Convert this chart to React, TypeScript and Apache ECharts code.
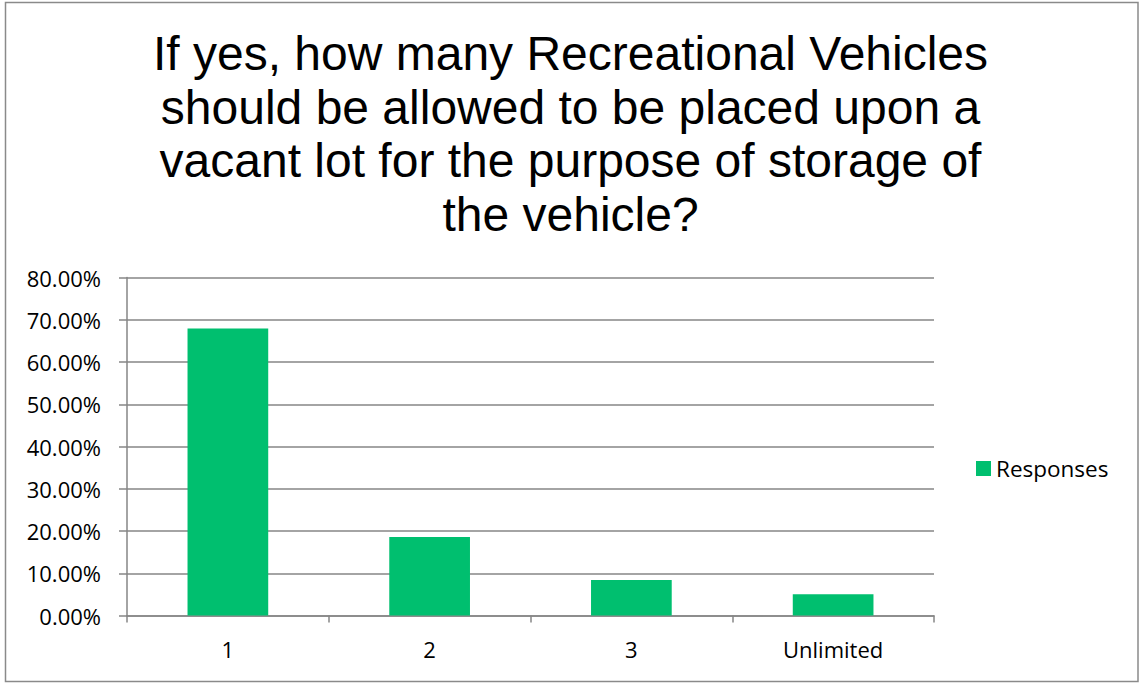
import React, { useEffect, useRef } from "react";
import * as echarts from "echarts";

const titleLines = [
  "If yes, how many Recreational Vehicles",
  "should be allowed to be placed upon a",
  "vacant lot for the purpose of storage of",
  "the vehicle?",
];
const categories = ["1", "2", "3", "Unlimited"];
const responses = [67.92, 18.6, 8.43, 5.05];
const seriesName = "Responses";

export default function App() {
  const ref = useRef<HTMLDivElement>(null);
  useEffect(() => {
    document.body.style.margin = "0";
    const chart = echarts.init(ref.current!, null, { renderer: "svg" });
    chart.setOption({
      animation: false,
      backgroundColor: "#ffffff",
      title: {
        text: titleLines.join("\n"),
        left: "center",
        top: 22,
        textStyle: {
          fontFamily: "Liberation Sans, Arial, sans-serif",
          fontSize: 48,
          fontWeight: "normal",
          color: "#000000",
          lineHeight: 53.5,
          align: "center",
        },
      },
      legend: {
        data: [seriesName],
        orient: "vertical",
        left: 971,
        top: 452,
        itemWidth: 15,
        itemHeight: 15,
        itemGap: 8,
        icon: "rect",
        textStyle: { fontFamily: "Open Sans, sans-serif", fontSize: 22.5, color: "#000" },
      },
      grid: { left: 127, right: 207, top: 277.5, bottom: 67.5, containLabel: false },
      xAxis: {
        type: "category",
        data: categories,
        boundaryGap: true,
        axisLine: { lineStyle: { color: "#868686", width: 1.5 } },
        axisTick: { show: true, alignWithLabel: false, length: 7, lineStyle: { color: "#868686", width: 1.5 } },
        axisLabel: { fontFamily: "Open Sans, sans-serif", fontSize: 22, color: "#000", margin: 22 },
      },
      yAxis: {
        type: "value",
        min: 0,
        max: 80,
        interval: 10,
        axisLine: { show: true, lineStyle: { color: "#868686", width: 1.5 } },
        axisTick: { show: true, length: 8, lineStyle: { color: "#868686", width: 1.5 } },
        splitLine: { show: true, lineStyle: { color: "#868686", width: 1.5 } },
        axisLabel: {
          fontFamily: "Open Sans, sans-serif",
          fontSize: 22,
          color: "#000",
          margin: 26,
          formatter: (v: number) => v.toFixed(2) + "%",
        },
      },
      series: [
        {
          name: seriesName,
          type: "bar",
          data: responses,
          barWidth: "40%",
          itemStyle: { color: "#00BF6F" },
        },
      ],
      graphic: [
        {
          type: "rect",
          shape: { x: 5.5, y: 2.5, width: 1132.5, height: 679 },
          style: { fill: "none", stroke: "#8a8a8a", lineWidth: 1.5 },
          silent: true,
          z: 100,
        },
      ],
    });
    return () => chart.dispose();
  }, []);
  return (
    <div
      ref={ref}
      style={{ position: "absolute", left: 0, top: 0, width: 1141, height: 683 }}
    />
  );
}
